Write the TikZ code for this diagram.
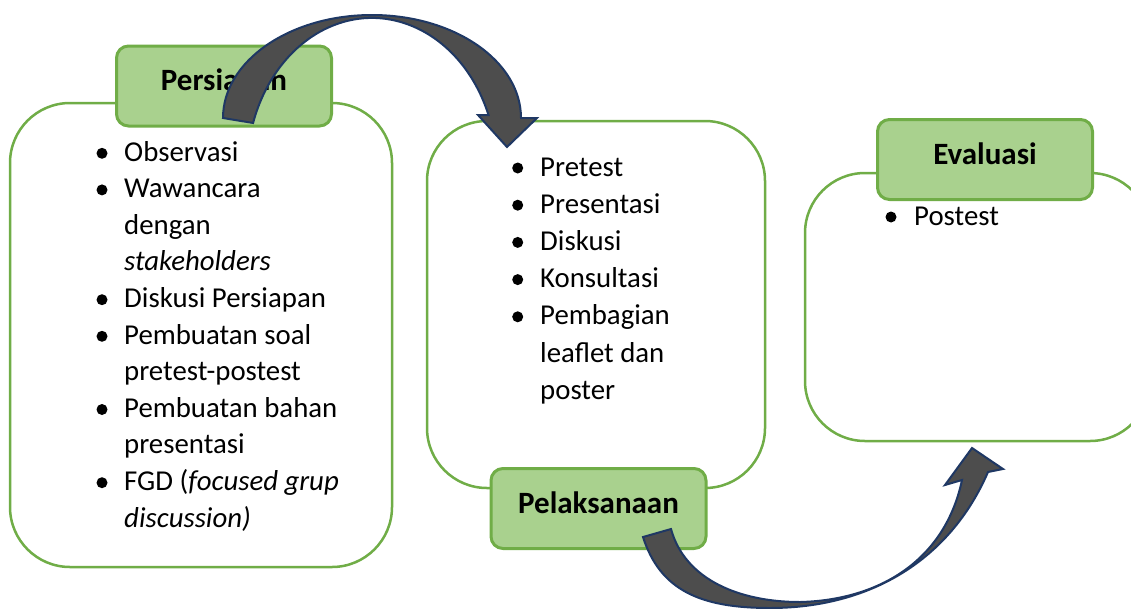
\documentclass[tikz,border=0pt]{standalone}
\usepackage{fontspec}
\setmainfont{Carlito}
\definecolor{boxgreen}{HTML}{70AD47}
\definecolor{headfill}{HTML}{A9D18E}
\definecolor{arrowgrey}{HTML}{4D4D4D}
\definecolor{arrowline}{HTML}{1F3864}
\tikzset{
  listbox/.style={draw=boxgreen, line width=2.5pt, fill=white, rounded corners=60pt, inner sep=0pt},
  headbox/.style={draw=boxgreen, line width=3pt, fill=headfill, rounded corners=12pt, inner sep=0pt,
    minimum width=215pt, minimum height=80pt, font=\fontsize{31}{37}\selectfont\bfseries,
    text height=20pt, text depth=11pt},
  listtext/.style={anchor=base west, inner sep=0pt, font=\fontsize{28.8}{36.6}\selectfont},
  blockarrow/.style={fill=arrowgrey, draw=arrowline, line width=2pt, line join=miter},
}
\begin{document}
\begin{tikzpicture}[x=1pt, y=-1pt]
    \useasboundingbox (0,0) rectangle (1131,608);

    % persiapan
    \node[listbox, minimum width=382pt, minimum height=464pt] (boxPersiapan) at (201,335) {};
    \node[headbox] (persiapan) at (224,86) {Persiapan};
    \node[listtext] (listPersiapan) at (124,161) {\begin{tabular}[t]{@{}l@{}}
        Observasi\\ Wawancara\\ dengan\\ \textit{stakeholders}\\ Diskusi Persiapan\\
        Pembuatan soal\\ pretest-postest\\ Pembuatan bahan\\ presentasi\\
        FGD (\textit{focused grup}\\ \textit{discussion)}
    \end{tabular}};
    \foreach \k in {0,1,4,5,7,9}
        \fill (102,153.3+36.6*\k) circle (5.5pt);

    % pelaksanaan
    \node[listbox, minimum width=338pt, minimum height=367pt] (boxPelaksanaan) at (596,304.5) {};
    \node[headbox] (pelaksanaan) at (598.5,508.5) {Pelaksanaan};
    \node[listtext, font=\fontsize{28.8}{37.2}\selectfont] (listPelaksanaan) at (540,176) {\begin{tabular}[t]{@{}l@{}}
        Pretest\\ Presentasi\\ Diskusi\\ Konsultasi\\ Pembagian\\ leaflet dan\\ poster
    \end{tabular}};
    \foreach \k in {0,...,4}
        \fill (517.7,168+37.2*\k) circle (5.5pt);

    % evaluasi
    \node[listbox, minimum width=345pt, minimum height=268pt] (boxEvaluasi) at (977.5,307) {};
    \node[headbox] (evaluasi) at (985,159.5) {Evaluasi};
    \node[listtext] (listEvaluasi) at (914,225) {Postest};
    \fill (891,217) circle (5.5pt);

    % panah antar tahap
    \draw[blockarrow] (223,118) arc[start angle=180, end angle=360, x radius=149, y radius=103]
        -- (537,118) -- (507,147) -- (478,115) -- (488.5,115)
        arc[start angle=-21.2, end angle=-162, x radius=125, y radius=152] -- cycle;
    \draw[blockarrow] (643,537) .. controls (660,590) and (700,608) .. (770,608)
        .. controls (870,608) and (950,560) .. (988,472)
        -- (1003,469) -- (972,448) -- (945,485) -- (962,480)
        .. controls (945,560) and (880,600) .. (800,602)
        .. controls (740,602) and (685,580) .. (671,529) -- cycle;
\end{tikzpicture}
\end{document}
